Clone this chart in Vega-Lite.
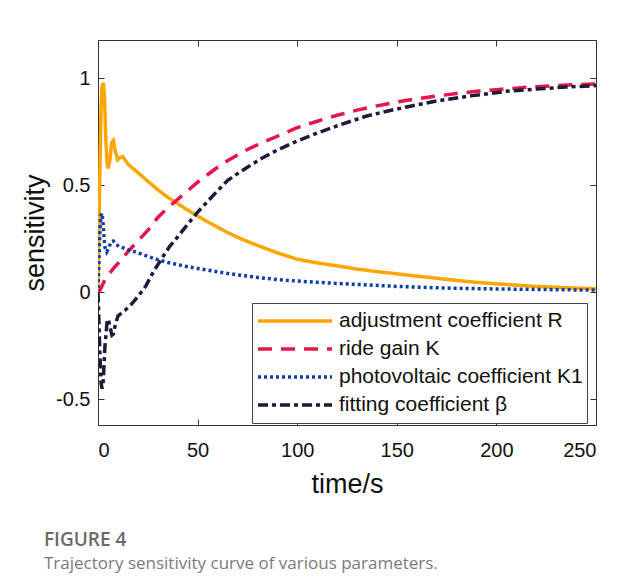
{
  "$schema": "https://vega.github.io/schema/vega-lite/v6.json",
  "width": 498,
  "height": 385,
  "autosize": {"type": "none"},
  "padding": {"left": 98, "top": 40, "right": 30, "bottom": 163},
  "background": "white",
  "title": {
    "text": "FIGURE 4",
    "subtitle": "Trajectory sensitivity curve of various parameters.",
    "orient": "bottom",
    "anchor": "start",
    "frame": "group",
    "dx": -54,
    "offset": 34,
    "font": "Open Sans",
    "fontSize": 19,
    "fontWeight": 600,
    "color": "#6a6a6a",
    "subtitleFont": "Open Sans",
    "subtitleFontSize": 17,
    "subtitleColor": "#7a7a7a",
    "subtitlePadding": 6
  },
  "config": {
    "view": {"stroke": "#333333", "strokeWidth": 1},
    "axis": {
      "grid": false,
      "domain": false,
      "tickColor": "#333333",
      "tickSize": -6,
      "labelFont": "Liberation Sans",
      "labelFontSize": 20,
      "labelColor": "#111111",
      "titleFont": "Liberation Sans",
      "titleFontSize": 27,
      "titleFontWeight": "normal",
      "titleColor": "#111111"
    }
  },
  "data": {
    "values": [
      {"t": 0, "v": 0, "s": "adjustment coefficient R"},
      {"t": 0.5, "v": 0.3, "s": "adjustment coefficient R"},
      {"t": 1, "v": 0.6, "s": "adjustment coefficient R"},
      {"t": 1.5, "v": 0.85, "s": "adjustment coefficient R"},
      {"t": 2, "v": 0.96, "s": "adjustment coefficient R"},
      {"t": 2.7, "v": 0.98, "s": "adjustment coefficient R"},
      {"t": 3.3, "v": 0.9, "s": "adjustment coefficient R"},
      {"t": 4, "v": 0.7, "s": "adjustment coefficient R"},
      {"t": 4.6, "v": 0.6, "s": "adjustment coefficient R"},
      {"t": 5.2, "v": 0.58, "s": "adjustment coefficient R"},
      {"t": 6, "v": 0.62, "s": "adjustment coefficient R"},
      {"t": 6.8, "v": 0.7, "s": "adjustment coefficient R"},
      {"t": 7.7, "v": 0.71, "s": "adjustment coefficient R"},
      {"t": 8.7, "v": 0.66, "s": "adjustment coefficient R"},
      {"t": 9.9, "v": 0.62, "s": "adjustment coefficient R"},
      {"t": 11, "v": 0.63, "s": "adjustment coefficient R"},
      {"t": 12.5, "v": 0.635, "s": "adjustment coefficient R"},
      {"t": 13.5, "v": 0.62, "s": "adjustment coefficient R"},
      {"t": 15, "v": 0.6, "s": "adjustment coefficient R"},
      {"t": 20, "v": 0.56, "s": "adjustment coefficient R"},
      {"t": 25, "v": 0.52, "s": "adjustment coefficient R"},
      {"t": 30, "v": 0.48, "s": "adjustment coefficient R"},
      {"t": 35, "v": 0.445, "s": "adjustment coefficient R"},
      {"t": 40, "v": 0.415, "s": "adjustment coefficient R"},
      {"t": 45, "v": 0.385, "s": "adjustment coefficient R"},
      {"t": 50, "v": 0.357, "s": "adjustment coefficient R"},
      {"t": 55, "v": 0.33, "s": "adjustment coefficient R"},
      {"t": 60, "v": 0.305, "s": "adjustment coefficient R"},
      {"t": 65, "v": 0.28, "s": "adjustment coefficient R"},
      {"t": 70, "v": 0.258, "s": "adjustment coefficient R"},
      {"t": 75, "v": 0.238, "s": "adjustment coefficient R"},
      {"t": 80, "v": 0.22, "s": "adjustment coefficient R"},
      {"t": 90, "v": 0.185, "s": "adjustment coefficient R"},
      {"t": 100, "v": 0.155, "s": "adjustment coefficient R"},
      {"t": 110, "v": 0.138, "s": "adjustment coefficient R"},
      {"t": 120, "v": 0.124, "s": "adjustment coefficient R"},
      {"t": 130, "v": 0.109, "s": "adjustment coefficient R"},
      {"t": 140, "v": 0.097, "s": "adjustment coefficient R"},
      {"t": 150, "v": 0.087, "s": "adjustment coefficient R"},
      {"t": 160, "v": 0.076, "s": "adjustment coefficient R"},
      {"t": 170, "v": 0.066, "s": "adjustment coefficient R"},
      {"t": 180, "v": 0.056, "s": "adjustment coefficient R"},
      {"t": 190, "v": 0.047, "s": "adjustment coefficient R"},
      {"t": 200, "v": 0.04, "s": "adjustment coefficient R"},
      {"t": 210, "v": 0.034, "s": "adjustment coefficient R"},
      {"t": 220, "v": 0.028, "s": "adjustment coefficient R"},
      {"t": 230, "v": 0.024, "s": "adjustment coefficient R"},
      {"t": 240, "v": 0.02, "s": "adjustment coefficient R"},
      {"t": 250, "v": 0.017, "s": "adjustment coefficient R"},

      {"t": 0, "v": 0, "s": "ride gain K"},
      {"t": 1, "v": 0.01, "s": "ride gain K"},
      {"t": 2, "v": 0.03, "s": "ride gain K"},
      {"t": 3.5, "v": 0.06, "s": "ride gain K"},
      {"t": 5, "v": 0.08, "s": "ride gain K"},
      {"t": 8, "v": 0.115, "s": "ride gain K"},
      {"t": 12, "v": 0.155, "s": "ride gain K"},
      {"t": 15, "v": 0.19, "s": "ride gain K"},
      {"t": 20, "v": 0.24, "s": "ride gain K"},
      {"t": 25, "v": 0.29, "s": "ride gain K"},
      {"t": 30, "v": 0.35, "s": "ride gain K"},
      {"t": 35, "v": 0.395, "s": "ride gain K"},
      {"t": 40, "v": 0.435, "s": "ride gain K"},
      {"t": 45, "v": 0.475, "s": "ride gain K"},
      {"t": 50, "v": 0.515, "s": "ride gain K"},
      {"t": 55, "v": 0.55, "s": "ride gain K"},
      {"t": 60, "v": 0.585, "s": "ride gain K"},
      {"t": 65, "v": 0.615, "s": "ride gain K"},
      {"t": 70, "v": 0.642, "s": "ride gain K"},
      {"t": 75, "v": 0.668, "s": "ride gain K"},
      {"t": 80, "v": 0.69, "s": "ride gain K"},
      {"t": 90, "v": 0.73, "s": "ride gain K"},
      {"t": 100, "v": 0.77, "s": "ride gain K"},
      {"t": 110, "v": 0.8, "s": "ride gain K"},
      {"t": 120, "v": 0.828, "s": "ride gain K"},
      {"t": 130, "v": 0.852, "s": "ride gain K"},
      {"t": 140, "v": 0.872, "s": "ride gain K"},
      {"t": 150, "v": 0.89, "s": "ride gain K"},
      {"t": 160, "v": 0.905, "s": "ride gain K"},
      {"t": 170, "v": 0.918, "s": "ride gain K"},
      {"t": 180, "v": 0.93, "s": "ride gain K"},
      {"t": 190, "v": 0.94, "s": "ride gain K"},
      {"t": 200, "v": 0.948, "s": "ride gain K"},
      {"t": 210, "v": 0.955, "s": "ride gain K"},
      {"t": 220, "v": 0.962, "s": "ride gain K"},
      {"t": 230, "v": 0.967, "s": "ride gain K"},
      {"t": 240, "v": 0.971, "s": "ride gain K"},
      {"t": 250, "v": 0.975, "s": "ride gain K"},

      {"t": 0, "v": 0.02, "s": "photovoltaic coefficient K1"},
      {"t": 0.5, "v": 0.15, "s": "photovoltaic coefficient K1"},
      {"t": 1, "v": 0.3, "s": "photovoltaic coefficient K1"},
      {"t": 1.5, "v": 0.36, "s": "photovoltaic coefficient K1"},
      {"t": 2, "v": 0.37, "s": "photovoltaic coefficient K1"},
      {"t": 2.5, "v": 0.33, "s": "photovoltaic coefficient K1"},
      {"t": 3, "v": 0.26, "s": "photovoltaic coefficient K1"},
      {"t": 3.5, "v": 0.21, "s": "photovoltaic coefficient K1"},
      {"t": 4.4, "v": 0.19, "s": "photovoltaic coefficient K1"},
      {"t": 5.5, "v": 0.21, "s": "photovoltaic coefficient K1"},
      {"t": 6.5, "v": 0.235, "s": "photovoltaic coefficient K1"},
      {"t": 7.7, "v": 0.24, "s": "photovoltaic coefficient K1"},
      {"t": 9, "v": 0.225, "s": "photovoltaic coefficient K1"},
      {"t": 10.5, "v": 0.215, "s": "photovoltaic coefficient K1"},
      {"t": 12, "v": 0.21, "s": "photovoltaic coefficient K1"},
      {"t": 15, "v": 0.2, "s": "photovoltaic coefficient K1"},
      {"t": 20, "v": 0.185, "s": "photovoltaic coefficient K1"},
      {"t": 25, "v": 0.168, "s": "photovoltaic coefficient K1"},
      {"t": 30, "v": 0.153, "s": "photovoltaic coefficient K1"},
      {"t": 35, "v": 0.14, "s": "photovoltaic coefficient K1"},
      {"t": 40, "v": 0.13, "s": "photovoltaic coefficient K1"},
      {"t": 45, "v": 0.12, "s": "photovoltaic coefficient K1"},
      {"t": 50, "v": 0.112, "s": "photovoltaic coefficient K1"},
      {"t": 60, "v": 0.096, "s": "photovoltaic coefficient K1"},
      {"t": 70, "v": 0.082, "s": "photovoltaic coefficient K1"},
      {"t": 80, "v": 0.07, "s": "photovoltaic coefficient K1"},
      {"t": 90, "v": 0.06, "s": "photovoltaic coefficient K1"},
      {"t": 100, "v": 0.053, "s": "photovoltaic coefficient K1"},
      {"t": 110, "v": 0.047, "s": "photovoltaic coefficient K1"},
      {"t": 120, "v": 0.042, "s": "photovoltaic coefficient K1"},
      {"t": 135, "v": 0.035, "s": "photovoltaic coefficient K1"},
      {"t": 150, "v": 0.028, "s": "photovoltaic coefficient K1"},
      {"t": 165, "v": 0.023, "s": "photovoltaic coefficient K1"},
      {"t": 180, "v": 0.019, "s": "photovoltaic coefficient K1"},
      {"t": 200, "v": 0.016, "s": "photovoltaic coefficient K1"},
      {"t": 220, "v": 0.014, "s": "photovoltaic coefficient K1"},
      {"t": 235, "v": 0.012, "s": "photovoltaic coefficient K1"},
      {"t": 250, "v": 0.011, "s": "photovoltaic coefficient K1"},

      {"t": 0, "v": 0, "s": "fitting coefficient β"},
      {"t": 0.5, "v": -0.15, "s": "fitting coefficient β"},
      {"t": 1, "v": -0.3, "s": "fitting coefficient β"},
      {"t": 1.5, "v": -0.42, "s": "fitting coefficient β"},
      {"t": 2, "v": -0.45, "s": "fitting coefficient β"},
      {"t": 2.5, "v": -0.43, "s": "fitting coefficient β"},
      {"t": 3, "v": -0.35, "s": "fitting coefficient β"},
      {"t": 3.5, "v": -0.25, "s": "fitting coefficient β"},
      {"t": 4, "v": -0.2, "s": "fitting coefficient β"},
      {"t": 4.5, "v": -0.14, "s": "fitting coefficient β"},
      {"t": 5.2, "v": -0.125, "s": "fitting coefficient β"},
      {"t": 6, "v": -0.16, "s": "fitting coefficient β"},
      {"t": 7, "v": -0.2, "s": "fitting coefficient β"},
      {"t": 7.7, "v": -0.195, "s": "fitting coefficient β"},
      {"t": 8.5, "v": -0.16, "s": "fitting coefficient β"},
      {"t": 10, "v": -0.11, "s": "fitting coefficient β"},
      {"t": 12, "v": -0.095, "s": "fitting coefficient β"},
      {"t": 14, "v": -0.08, "s": "fitting coefficient β"},
      {"t": 16, "v": -0.064, "s": "fitting coefficient β"},
      {"t": 20, "v": -0.02, "s": "fitting coefficient β"},
      {"t": 24, "v": 0.03, "s": "fitting coefficient β"},
      {"t": 28, "v": 0.1, "s": "fitting coefficient β"},
      {"t": 32.8, "v": 0.17, "s": "fitting coefficient β"},
      {"t": 36, "v": 0.215, "s": "fitting coefficient β"},
      {"t": 40, "v": 0.26, "s": "fitting coefficient β"},
      {"t": 46, "v": 0.33, "s": "fitting coefficient β"},
      {"t": 50, "v": 0.375, "s": "fitting coefficient β"},
      {"t": 55, "v": 0.425, "s": "fitting coefficient β"},
      {"t": 60, "v": 0.475, "s": "fitting coefficient β"},
      {"t": 65, "v": 0.523, "s": "fitting coefficient β"},
      {"t": 70, "v": 0.555, "s": "fitting coefficient β"},
      {"t": 75, "v": 0.585, "s": "fitting coefficient β"},
      {"t": 82, "v": 0.626, "s": "fitting coefficient β"},
      {"t": 90, "v": 0.665, "s": "fitting coefficient β"},
      {"t": 99, "v": 0.704, "s": "fitting coefficient β"},
      {"t": 110, "v": 0.745, "s": "fitting coefficient β"},
      {"t": 122, "v": 0.785, "s": "fitting coefficient β"},
      {"t": 135, "v": 0.825, "s": "fitting coefficient β"},
      {"t": 145, "v": 0.847, "s": "fitting coefficient β"},
      {"t": 155, "v": 0.867, "s": "fitting coefficient β"},
      {"t": 170, "v": 0.895, "s": "fitting coefficient β"},
      {"t": 188, "v": 0.92, "s": "fitting coefficient β"},
      {"t": 205, "v": 0.94, "s": "fitting coefficient β"},
      {"t": 222, "v": 0.952, "s": "fitting coefficient β"},
      {"t": 235, "v": 0.96, "s": "fitting coefficient β"},
      {"t": 250, "v": 0.967, "s": "fitting coefficient β"}
    ]
  },
  "layer": [
    {
      "mark": {"type": "line", "strokeWidth": 3.5, "strokeCap": "butt", "clip": true},
      "encoding": {
        "x": {
          "field": "t", "type": "quantitative",
          "scale": {"domain": [0, 250], "nice": false, "zero": false},
          "axis": {"title": "time/s", "values": [0, 50, 100, 150, 200, 250], "labelPadding": 21, "titlePadding": 11, "format": "d"}
        },
        "y": {
          "field": "v", "type": "quantitative",
          "scale": {"domain": [-0.62, 1.18], "nice": false, "zero": false},
          "axis": {"title": "sensitivity", "values": [-0.5, 0, 0.5, 1], "labelPadding": 14, "titlePadding": 6, "labelExpr": "'' + datum.value"}
        },
        "color": {
          "field": "s", "type": "nominal",
          "scale": {
            "domain": ["adjustment coefficient R", "ride gain K", "photovoltaic coefficient K1", "fitting coefficient β"],
            "range": ["#FFA500", "#E8144A", "#0F3FA6", "#1C1C38"]
          },
          "legend": {
            "title": null,
            "orient": "none",
            "legendX": 154,
            "legendY": 263,
            "symbolType": "stroke",
            "symbolSize": 5476,
            "symbolStrokeWidth": 3.5,
            "clipHeight": 28,
            "labelFont": "Liberation Sans",
            "labelFontSize": 21,
            "labelColor": "#111111",
            "labelLimit": 400,
            "strokeColor": "#444444",
            "fillColor": "white",
            "padding": 4,
            "rowPadding": 0,
            "labelOffset": 5
          }
        },
        "strokeDash": {
          "field": "s", "type": "nominal",
          "scale": {
            "domain": ["adjustment coefficient R", "ride gain K", "photovoltaic coefficient K1", "fitting coefficient β"],
            "range": [[1, 0], [14, 9], [3, 3], [10, 4, 4, 4]]
          },
          "legend": null
        },
        "order": {"field": "t", "type": "quantitative"}
      }
    },
    {
      "mark": {"type": "point", "opacity": 0},
      "encoding": {
        "x": {"field": "t", "type": "quantitative", "axis": {"orient": "top", "labels": false, "title": null, "values": [0, 50, 100, 150, 200, 250]}},
        "y": {"field": "v", "type": "quantitative", "axis": {"orient": "right", "labels": false, "title": null, "values": [-0.5, 0, 0.5, 1]}}
      }
    }
  ],
  "resolve": {"axis": {"x": "independent", "y": "independent"}}
}
